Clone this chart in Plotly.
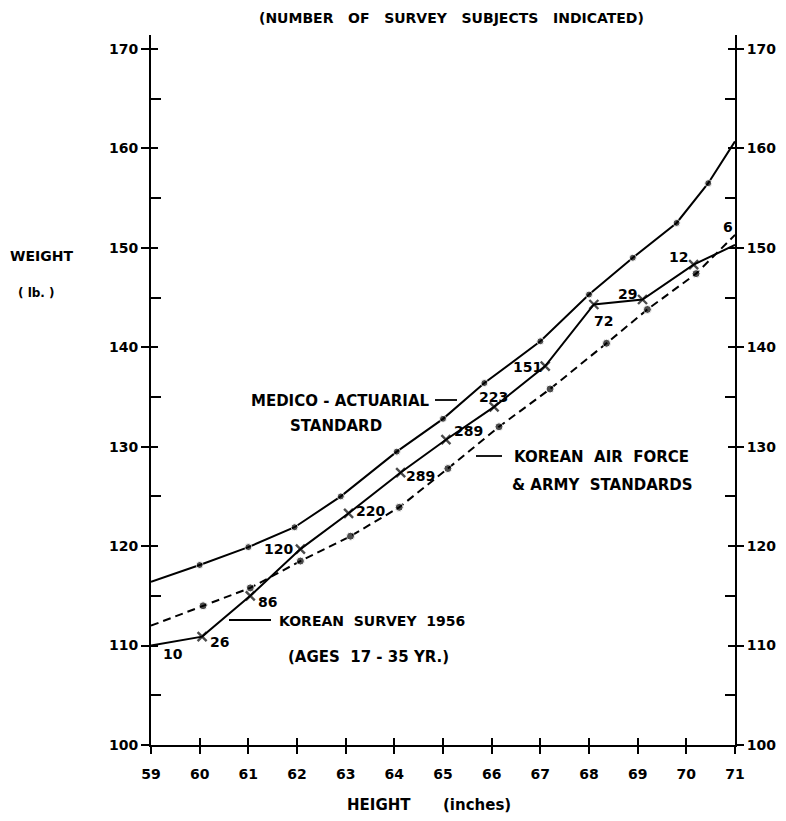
import plotly.graph_objects as go

# ---------------- data ----------------
medico_height = [59, 60, 61, 61.95, 62.9, 64.05, 65, 65.85, 67, 68, 68.9, 69.8, 70.45, 71]
medico_weight = [116.4, 118.1, 119.9, 121.9, 125.0, 129.5, 132.8, 136.4, 140.6, 145.3, 149.0, 152.5, 156.5, 160.7]

survey_height = [59, 60.05, 61.04, 62.07, 63.06, 64.13, 65.06, 66.05, 67.1, 68.1, 69.1, 70.15, 71]
survey_weight = [110.0, 110.9, 115.0, 119.7, 123.3, 127.4, 130.7, 134.0, 138.1, 144.3, 144.8, 148.3, 150.3]
survey_subjects = ["10", "26", "86", "120", "220", "289", "289", "223", "151", "72", "29", "12", "6"]

standard_height = [59, 60.07, 61.04, 62.07, 63.1, 64.1, 65.1, 66.15, 67.2, 68.36, 69.2, 70.2, 71]
standard_weight = [112.0, 114.0, 115.8, 118.5, 121.0, 123.9, 127.8, 132.0, 135.8, 140.4, 143.8, 147.4, 151.3]

x_ticks = list(range(59, 72))
y_ticks = list(range(100, 171, 10))
y_minor = list(range(105, 170, 10))

# label offsets (pixels) of the subject counts relative to their points
label_dx = [22, 17, 17, -22, 22, 20, 23, -1, -18, 10, -15, -15, -7]
label_dy = [-8, -5, -6, 0, 2, -3, 9, 10, -1, -17, 6, 8, 18]

# ---------------- layout geometry (page pixels) ----------------
PAGE_OFF = 8               # default body margin of the html page
W, H = 786 - 2 * PAGE_OFF, 821 - 2 * PAGE_OFF
L, R, T, B = 151, 735, 35, 745
FONT = "DejaVu Sans"


def pxx(x):
    return (x - L) / (R - L)


def pyy(y):
    return (B - y) / (B - T)


def end_hidden(n, s):
    return [0] + [s] * (n - 2) + [0]


fig = go.Figure()

fig.add_trace(go.Scatter(
    x=medico_height, y=medico_weight, mode="lines+markers",
    line=dict(color="black", width=2),
    marker=dict(symbol="circle", color="black", size=end_hidden(len(medico_height), 7)),
    showlegend=False, hoverinfo="skip"))

fig.add_trace(go.Scatter(
    x=standard_height, y=standard_weight, mode="lines+markers",
    line=dict(color="black", width=2, dash="8px,5px"),
    marker=dict(symbol="circle", color="black", size=end_hidden(len(standard_height), 8)),
    showlegend=False, hoverinfo="skip"))

fig.add_trace(go.Scatter(
    x=survey_height, y=survey_weight, mode="lines+markers",
    line=dict(color="black", width=2),
    marker=dict(symbol="x-thin", color="black", size=end_hidden(len(survey_height), 9),
                line=dict(color="black", width=2.4)),
    showlegend=False, hoverinfo="skip"))

# invisible copies so that the overlay axes (crossing ticks, right axis) are drawn
for xa, ya in [("x2", "y3"), ("x", "y2"), ("x", "y4")]:
    fig.add_trace(go.Scatter(x=medico_height, y=medico_weight, xaxis=xa, yaxis=ya,
                             mode="lines", opacity=0, showlegend=False, hoverinfo="skip"))

annotations = []
for hx, wy, t, dx, dy in zip(survey_height, survey_weight, survey_subjects, label_dx, label_dy):
    annotations.append(dict(x=hx, y=wy, xref="x", yref="y", text=t, showarrow=False,
                            xshift=dx, yshift=dy,
                            font=dict(family=FONT, size=14, color="black", weight="bold")))


def txt(s, x, y, size=15, xanchor="center"):
    annotations.append(dict(x=pxx(x), y=pyy(y), xref="paper", yref="paper", text=s,
                            showarrow=False, xanchor=xanchor, yanchor="middle",
                            font=dict(family=FONT, size=size, color="black", weight="bold")))


txt("(NUMBER&nbsp;&nbsp; OF&nbsp;&nbsp; SURVEY&nbsp;&nbsp; SUBJECTS&nbsp;&nbsp; INDICATED)", 451, 18, 14)
txt("WEIGHT", 41, 256, 14)
txt("( lb. )", 36, 293, 12)
txt("HEIGHT", 379, 805, 15)
txt("(inches)", 477, 805, 15)
txt("MEDICO - ACTUARIAL", 340, 401, 15)
txt("STANDARD", 336, 426, 15)
txt("KOREAN&nbsp; AIR&nbsp; FORCE", 601, 457, 15)
txt("&amp; ARMY&nbsp; STANDARDS", 602, 485, 15)
txt("KOREAN&nbsp; SURVEY&nbsp; 1956", 372, 621, 14)
txt("(AGES&nbsp; 17 - 35 YR.)", 368, 657, 15)

shapes = []
for x0, x1, y in [(435, 457, 400), (476, 502, 456), (229, 271, 620)]:
    shapes.append(dict(type="line", xref="paper", yref="paper",
                       x0=pxx(x0), x1=pxx(x1), y0=pyy(y), y1=pyy(y),
                       line=dict(color="black", width=1.8)))

tickfont = dict(family=FONT, size=14, color="black", weight="bold")
common_y = dict(range=[100, 171.4], showgrid=False, zeroline=False, fixedrange=True)

fig.update_layout(
    width=W, height=H,
    margin=dict(l=L - PAGE_OFF, r=W - (R - PAGE_OFF), t=T - PAGE_OFF,
                b=H - (B - PAGE_OFF), pad=0, autoexpand=False),
    paper_bgcolor="white", plot_bgcolor="white",
    showlegend=False,
    xaxis=dict(range=[59, 71], tickmode="array", tickvals=x_ticks, ticks="outside",
               ticklen=7, tickwidth=1.6, tickcolor="black", showline=True,
               linecolor="black", linewidth=2, showgrid=False, zeroline=False,
               tickfont=tickfont, ticklabelstandoff=8),
    xaxis2=dict(range=[59, 71], overlaying="x", side="bottom", anchor="y",
                tickmode="array", tickvals=x_ticks, ticks="inside", ticklen=7,
                tickwidth=1.6, tickcolor="black", showticklabels=False,
                showline=False, showgrid=False, zeroline=False),
    yaxis=dict(**common_y, side="left", tickmode="array", tickvals=y_ticks,
               ticks="outside", ticklen=8, tickwidth=1.6, tickcolor="black",
               showline=True, linecolor="black", linewidth=2, tickfont=tickfont,
               minor=dict(tickmode="array", tickvals=y_minor, ticks="inside",
                          ticklen=10, tickwidth=1.6, tickcolor="black")),
    yaxis3=dict(**common_y, overlaying="y", side="left", anchor="x",
                tickmode="array", tickvals=y_ticks, ticks="inside", ticklen=7,
                tickwidth=1.6, tickcolor="black", showticklabels=False, showline=False),
    yaxis2=dict(**common_y, overlaying="y", side="right", anchor="x",
                tickmode="array", tickvals=y_ticks, ticks="outside", ticklen=7,
                tickwidth=1.6, tickcolor="black", showline=True, linecolor="black",
                linewidth=2, tickfont=tickfont,
                minor=dict(tickmode="array", tickvals=y_minor, ticks="inside",
                           ticklen=10, tickwidth=1.6, tickcolor="black")),
    yaxis4=dict(**common_y, overlaying="y", side="right", anchor="x",
                tickmode="array", tickvals=y_ticks, ticks="inside", ticklen=7,
                tickwidth=1.6, tickcolor="black", showticklabels=False, showline=False),
    annotations=annotations,
    shapes=shapes,
)

fig.write_html("out.html")
